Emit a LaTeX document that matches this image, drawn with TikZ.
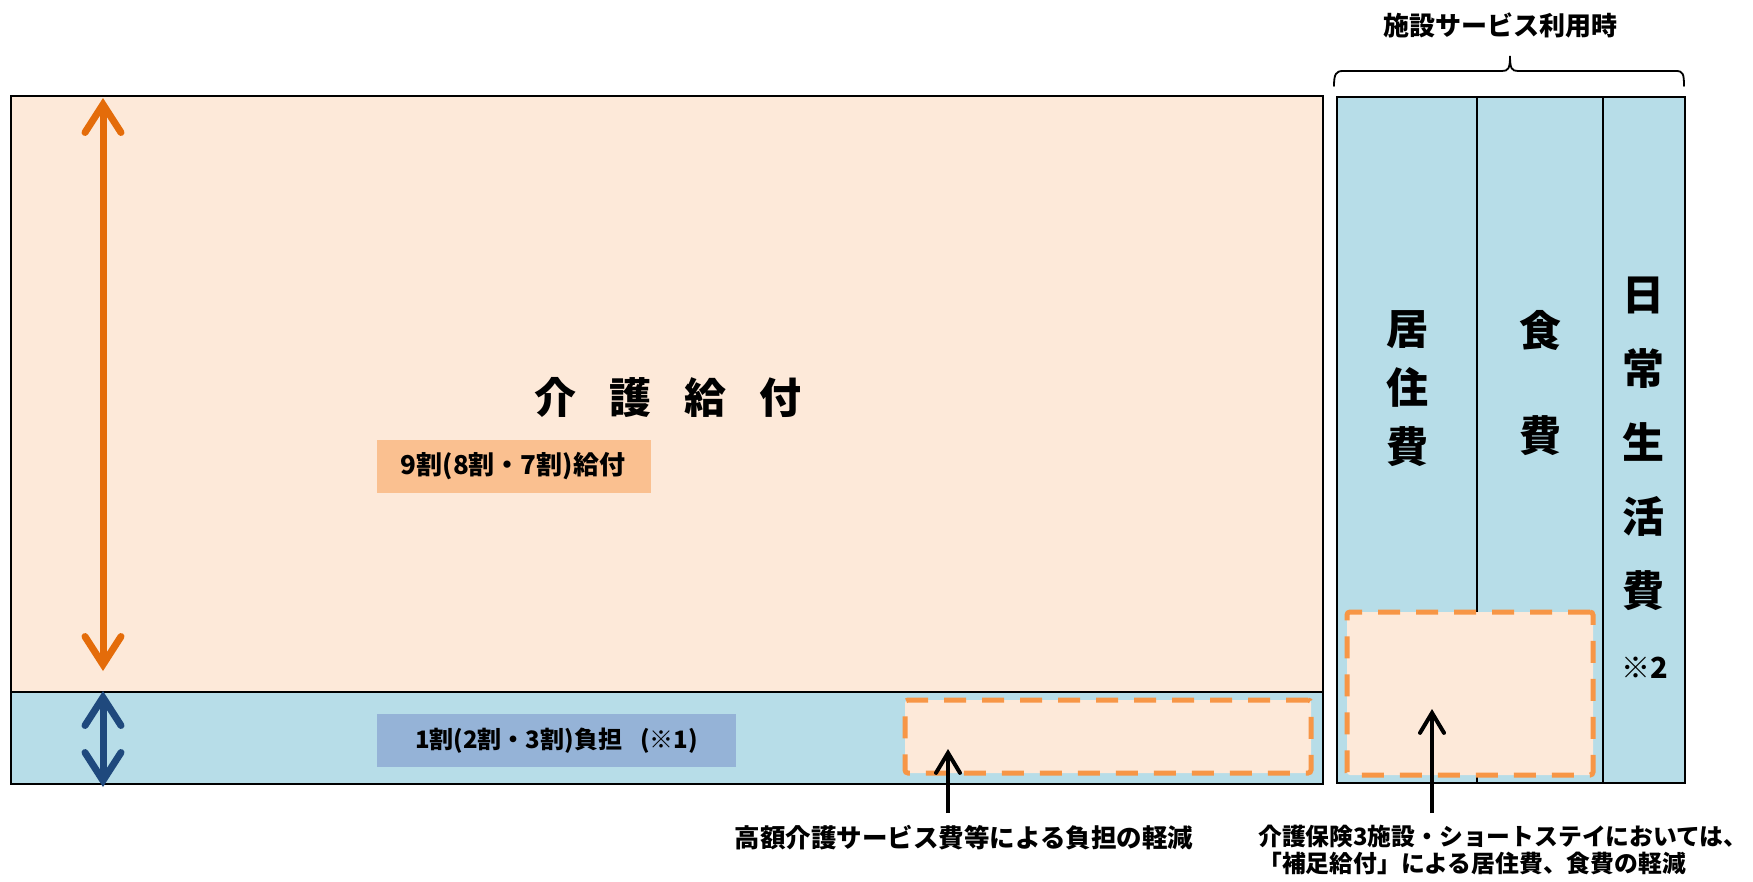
\documentclass[tikz,border=0pt]{standalone}
\usepackage{fontspec}
\setmainfont{Noto Sans CJK JP}
\usetikzlibrary{arrows.meta}
\definecolor{peach}{HTML}{FDE9D9}
\definecolor{lblue}{HTML}{B7DDE8}
\definecolor{olabel}{HTML}{FAC090}
\definecolor{blabel}{HTML}{95B3D7}
\definecolor{oarrow}{HTML}{E46C0A}
\definecolor{barrow}{HTML}{1F497D}
\definecolor{odash}{HTML}{F79646}
\begin{document}
\begin{tikzpicture}[x=1pt,y=-1pt,font=\bfseries,
  panel/.style={draw=black,line width=2pt,inner sep=0pt,outer sep=0pt,anchor=north west},
  labelbox/.style={inner sep=0pt,outer sep=0pt,anchor=north west},
  dashbox/.style={draw=odash,fill=peach,line width=5pt,dash pattern=on 22pt off 16pt,rounded corners=3pt,inner sep=0pt,outer sep=0pt,anchor=north west},
  bigtip/.tip={Straight Barb[length=28pt,width=36pt,line cap=round,line join=miter]},
  smalltip/.tip={Straight Barb[length=20pt,width=24pt,line cap=round,line join=miter]},
  bigarrow/.style={line width=7pt,{bigtip}-{bigtip}},
  blackarrow/.style={line width=4pt,-{smalltip}},
  fs/.style={font=\bfseries\fontsize{#1}{#1}\selectfont},
  vtext/.style={align=center,font=\bfseries\fontsize{42pt}{#1}\selectfont}
]
\useasboundingbox[fill=white] (0,0) rectangle (1753,881);

% left main panel
\node[panel,fill=peach,minimum width=1312pt,minimum height=596pt] (upper) at (11,96) {};
\node[panel,fill=lblue,minimum width=1312pt,minimum height=92pt] (lower) at (11,692) {};

% right panel columns
\node[panel,fill=lblue,minimum width=140pt,minimum height=686pt] (colA) at (1337,97) {};
\node[panel,fill=lblue,minimum width=126pt,minimum height=686pt] (colB) at (1477,97) {};
\node[panel,fill=lblue,minimum width=82pt,minimum height=686pt] (colC) at (1603,97) {};

% labels
\node[labelbox,fill=olabel,minimum width=274pt,minimum height=53pt] (glab) at (377,440) {};
\node[fs=26pt] (gtext) at ([xshift=-1pt]glab.center) {9割(8割・7割)給付};
\node[labelbox,fill=blabel,minimum width=359pt,minimum height=53pt] (flab) at (377,714) {};
\node[fs=24pt] (ftext) at (flab.center) {1割(2割・3割)負担\hspace{18pt}(※1)};

\node[fs=42pt] (kaigo) at (668,397) {介\hspace{33pt}護\hspace{33pt}給\hspace{33pt}付};

% vertical texts
\node[vtext=59pt] (kyoju) at (1407,389) {居\\住\\費};
\node[vtext=105pt] (shoku) at (1540,383) {食\\費};
\node[vtext=74pt] (nichi) at (1643,444) {日\\常\\生\\活\\費};
\node[fs=29pt] (kome2) at (1645,668) {※2};

% dashed reduction boxes
\node[dashbox,minimum width=406pt,minimum height=73pt] (red1) at (905,700) {};
\node[dashbox,minimum width=246pt,minimum height=163pt] (red2) at (1347,612) {};

% double arrows
\coordinate (oTop) at (103,98);
\coordinate (oBot) at (103,671);
\draw[bigarrow,draw=oarrow] (oBot) -- (oTop);
\coordinate (bTop) at (103,691);
\coordinate (bBot) at (103,787);
\draw[bigarrow,draw=barrow] (bBot) -- (bTop);

% brace and title
\node[fs=26pt] (title) at (1500,25) {施設サービス利用時};
\draw[line width=1.8pt,line cap=round] (1334,86) .. controls (1334,74) and (1336,71) .. (1343,71) -- (1502,71) .. controls (1508,71) and (1510,69) .. (1510,56) .. controls (1510,69) and (1512,71) .. (1518,71) -- (1676,71) .. controls (1683,71) and (1684,74) .. (1684,86);

% bottom notes and arrows
\node[fs=25.5pt,anchor=center] (note1) at (964,838) {高額介護サービス費等による負担の軽減};
\coordinate (t1) at (948,749);
\draw[blackarrow] (948,813) -- (t1);
\node[fs=23.8pt,anchor=west,align=left,inner sep=0pt] (note2) at (1258,850) {介護保険3施設・ショートステイにおいては、\\[3pt]「補足給付」による居住費、食費の軽減};
\coordinate (t2) at (1432,709);
\draw[blackarrow] (1432,813) -- (t2);
\end{tikzpicture}
\end{document}
